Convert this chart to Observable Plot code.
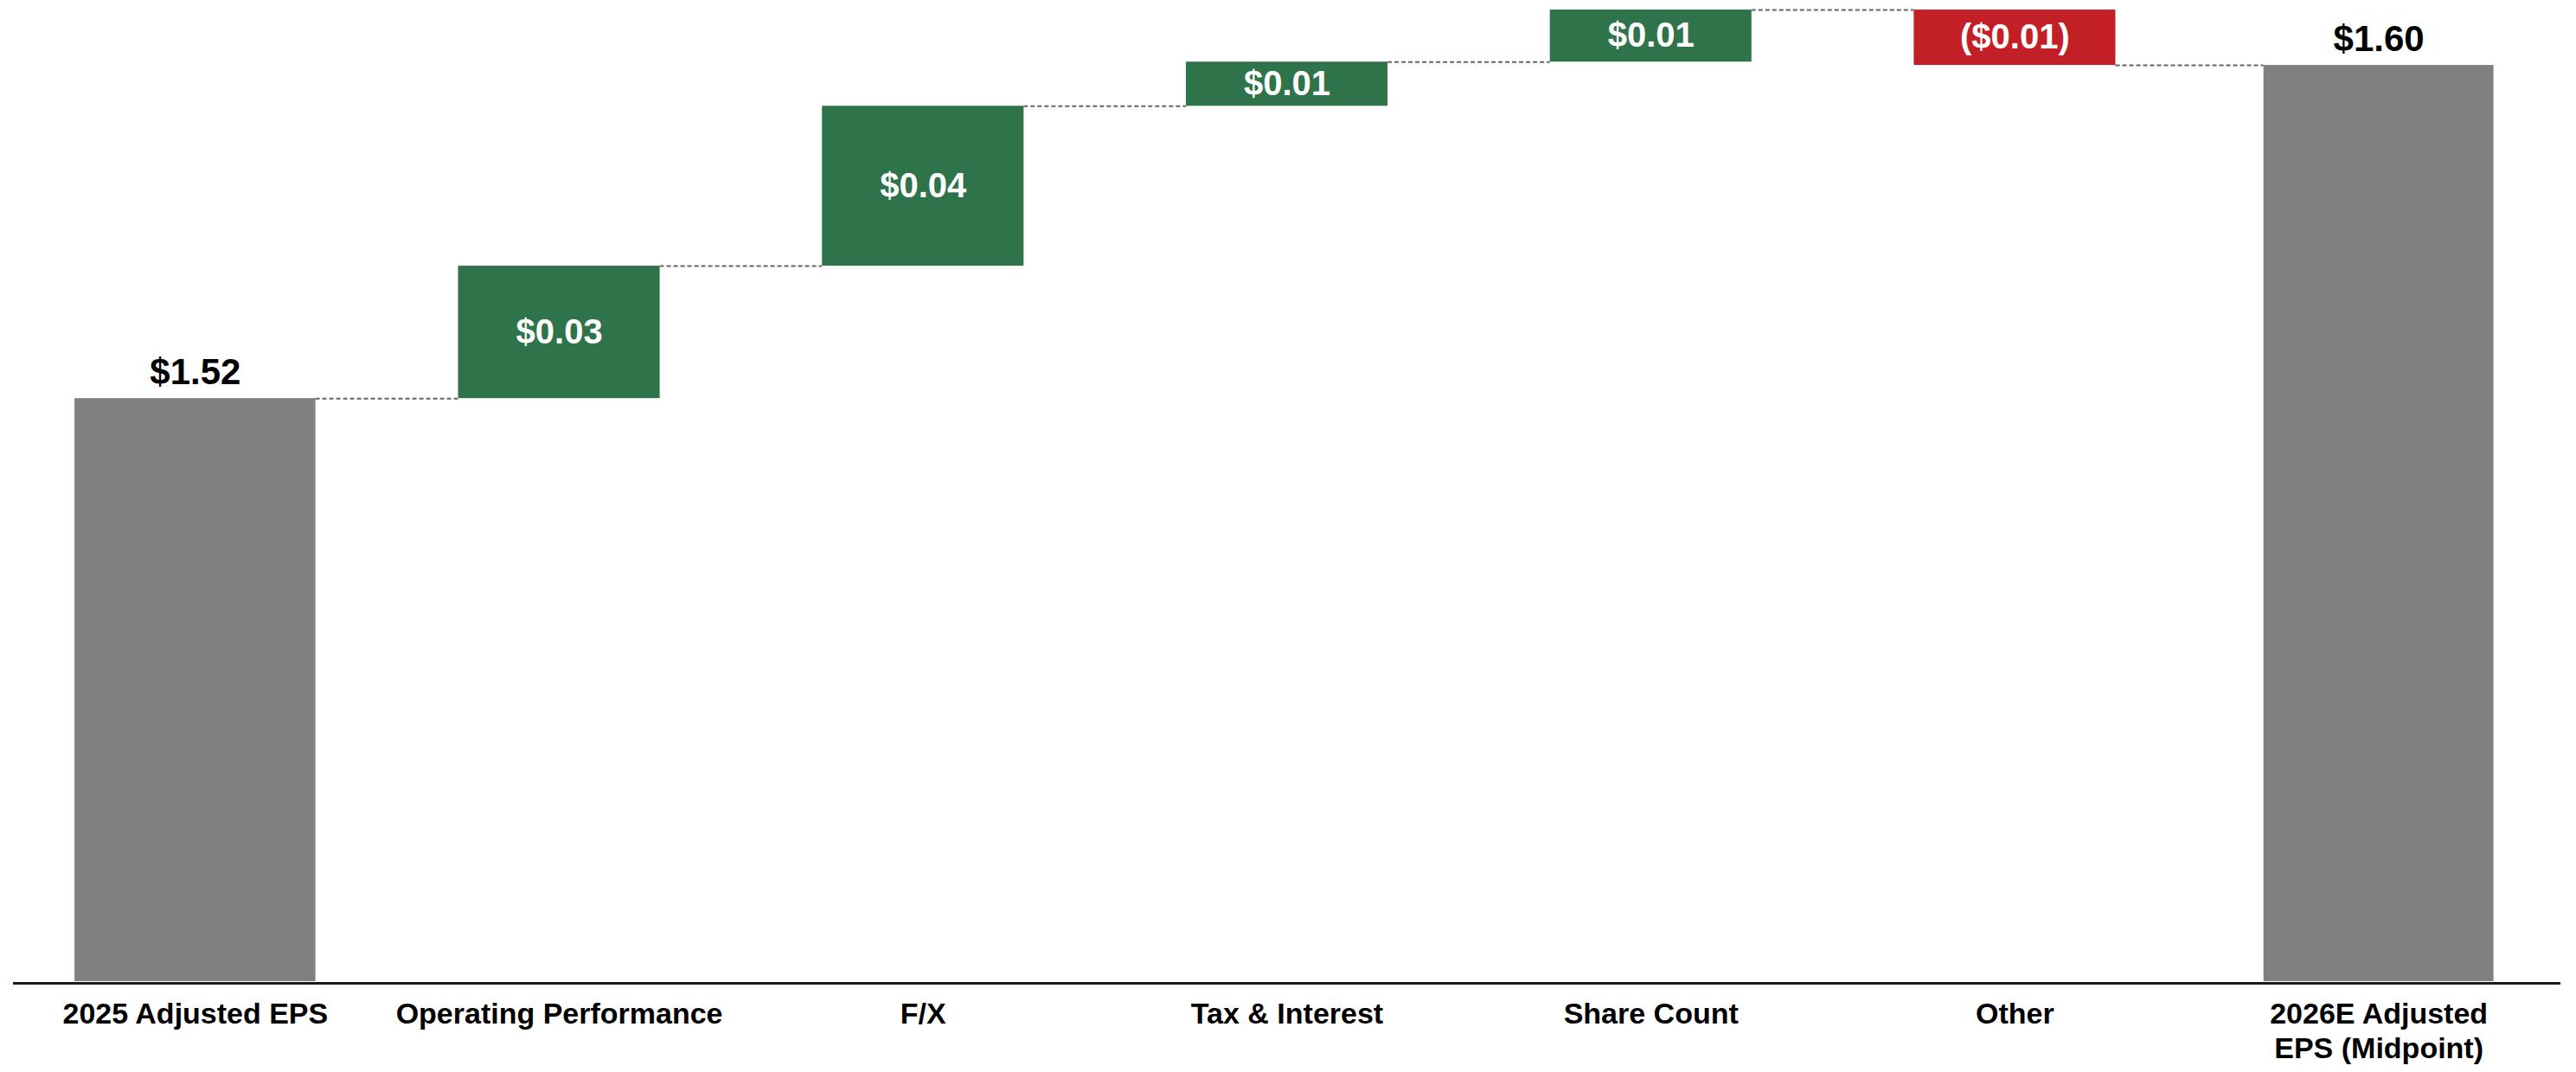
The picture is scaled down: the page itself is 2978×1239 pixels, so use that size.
<!DOCTYPE html>
<html>
<head>
<meta charset="utf-8">
<script src="https://cdn.jsdelivr.net/npm/d3@7"></script>
<script src="https://cdn.jsdelivr.net/npm/@observablehq/plot@0.6"></script>
<style>
  html, body { margin: 0; padding: 0; background: #fff; }
  #chart svg { display: block; }
</style>
</head>
<body>
<div id="chart"></div>
<script>
// ---- Data ----
const categories = ["2025 Adjusted EPS", "Operating Performance", "F/X", "Tax & Interest", "Share Count", "Other", "2026E Adjusted\nEPS (Midpoint)"];
const kinds = ["total", "change", "change", "change", "change", "change", "total"];
const values = [1.52, 0.0318, 0.0384, 0.0106, 0.0125, -0.0133, 1.60];
const valueLabels = ["$1.52", "$0.03", "$0.04", "$0.01", "$0.01", "($0.01)", "$1.60"];

// axis range (chart is truncated, bars start at this value)
const yMin = 1.38;
const yMax = 1.6156;

// ---- Build waterfall table ----
let running = 0;
const rows = categories.map((c, i) => {
  let y1, y2;
  if (kinds[i] === "total") {
    y1 = yMin; y2 = values[i]; running = values[i];
  } else {
    y1 = running; y2 = running + values[i]; running = y2;
  }
  return {i, category: c, kind: kinds[i], value: values[i], label: valueLabels[i], y1, y2, end: running};
});

// half widths (in category-step units)
const halfW = d => d.i === 0 ? 0.331 : d.i === categories.length - 1 ? 0.316 : 0.277;

const connectors = rows.slice(0, -1).map((d, k) => {
  const next = rows[k + 1];
  return {x1: d.i + halfW(d), x2: next.i - halfW(next), y: d.end};
});

const colorOf = d => d.kind === "total" ? "#808080" : (d.value >= 0 ? "#2E7349" : "#C21F26");

const font = "'Liberation Sans', Arial, Helvetica, sans-serif";

const chart = Plot.plot({
  width: 2978,
  height: 1239,
  marginTop: 0,
  marginBottom: 105,
  marginLeft: 15,
  marginRight: 18,
  x: {type: "linear", domain: [-0.5, categories.length - 0.5], axis: null},
  y: {domain: [yMin, yMax], axis: null},
  style: {fontFamily: font, background: "#fff"},
  marks: [
    Plot.rectY(rows, {
      x1: d => d.i - halfW(d),
      x2: d => d.i + halfW(d),
      y1: "y1",
      y2: "y2",
      fill: colorOf
    }),
    Plot.ruleY(connectors, {
      x1: "x1", x2: "x2", y: "y",
      stroke: "#666", strokeWidth: 2, strokeDasharray: "5,3"
    }),
    Plot.ruleY([yMin], {stroke: "#1a1a1a", strokeWidth: 3, dy: 2}),
    // totals labels above bars
    Plot.text(rows.filter(d => d.kind === "total"), {
      x: "i", y: "y2", text: "label",
      lineAnchor: "bottom", dy: -17,
      fontSize: 42, fontWeight: "bold", fill: "#000"
    }),
    // change labels inside bars
    Plot.text(rows.filter(d => d.kind === "change"), {
      x: "i", y: d => (d.y1 + d.y2) / 2, text: "label",
      lineAnchor: "middle",
      fontSize: 40, fontWeight: "bold", fill: "#fff"
    }),
    // category labels
    Plot.text(rows, {
      x: "i", y: () => yMin, text: "category",
      lineAnchor: "top", dy: 20, lineHeight: 1.18,
      fontSize: 34, fontWeight: "bold", fill: "#000"
    })
  ]
});

document.getElementById("chart").appendChild(chart);
</script>
</body>
</html>
